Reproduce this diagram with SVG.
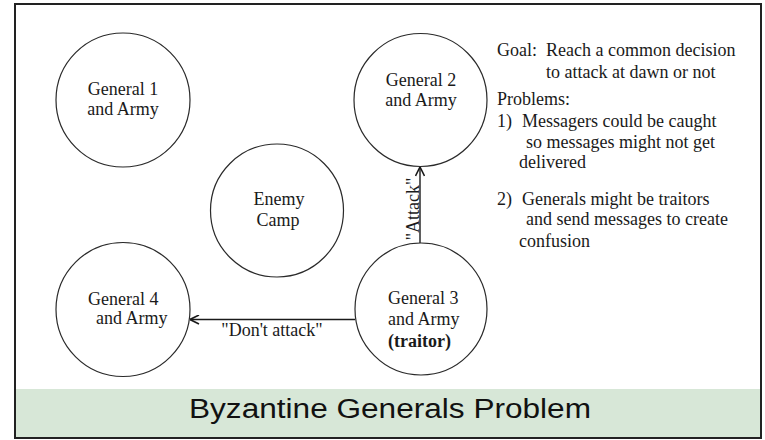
<svg xmlns="http://www.w3.org/2000/svg" width="765" height="440" viewBox="0 0 765 440">
<style>
.bg{fill:#ffffff}
.node{fill:#ffffff;stroke:#2a2a2a;stroke-width:1.2}
.t{font-family:'Liberation Serif','Times New Roman',Times,'DejaVu Serif',serif;font-size:18px;fill:#1a1a1a}
.b{font-weight:bold}
.conn{stroke:#1a1a1a;stroke-width:1.4;fill:none}
.title{font-family:'Liberation Sans',Arial,sans-serif;font-size:27px;fill:#111111}
</style>
<defs>
<marker id="arr" viewBox="0 0 10 10" refX="10" refY="5" markerWidth="10" markerHeight="10" markerUnits="userSpaceOnUse" orient="auto">
<path d="M1,0.5 L10,5 L1,9.5" fill="none" stroke="#1a1a1a" stroke-width="1.6"/>
</marker>
</defs>
<rect class="bg" x="0" y="0" width="765" height="440"/>
<rect x="15" y="389" width="746" height="49" fill="#d7e7d7"/>
<rect x="15" y="4" width="746" height="434" fill="none" stroke="#222222" stroke-width="2"/>
<text class="title" x="390" y="418" text-anchor="middle" textLength="402" lengthAdjust="spacingAndGlyphs">Byzantine Generals Problem</text>

<g id="connectors">
<line class="conn" x1="420" y1="243" x2="420" y2="167" marker-end="url(#arr)"/>
<text class="t" font-family="Liberation Serif, serif" transform="translate(419,209) rotate(-90)" text-anchor="middle">"Attack"</text>
<line class="conn" x1="355" y1="319.5" x2="190" y2="319.5" marker-end="url(#arr)"/>
<text class="t" font-family="Liberation Serif, serif" x="272" y="336" text-anchor="middle">"Don't attack"</text>
</g>

<g id="general1" font-family="Liberation Serif, serif">
<circle class="node" cx="123" cy="100" r="67"/>
<text class="t" x="123" y="95" text-anchor="middle">General 1</text>
<text class="t" x="123" y="115" text-anchor="middle">and Army</text>
</g>
<g id="general2">
<circle class="node" cx="420.5" cy="100" r="66.5"/>
<text class="t" x="421" y="86" text-anchor="middle">General 2</text>
<text class="t" x="421" y="106" text-anchor="middle">and Army</text>
</g>
<g id="enemy">
<circle class="node" cx="277" cy="210.5" r="66.5"/>
<text class="t" x="279" y="205" text-anchor="middle">Enemy</text>
<text class="t" x="278" y="226" text-anchor="middle">Camp</text>
</g>
<g id="general4">
<circle class="node" cx="123" cy="309.5" r="67"/>
<text class="t" x="88" y="305">General 4</text>
<text class="t" x="96" y="324">and Army</text>
</g>
<g id="general3">
<circle class="node" cx="421" cy="309" r="66"/>
<text class="t" x="388" y="304">General 3</text>
<text class="t" x="388" y="325">and Army</text>
<text class="t b" x="388" y="347">(traitor)</text>
</g>

<g id="notes">
<text class="t" x="497" y="56" xml:space="preserve">Goal:  Reach a common decision</text>
<text class="t" x="546" y="78">to attack at dawn or not</text>
<text class="t" x="497" y="105">Problems:</text>
<text class="t" x="497" y="127">1)</text>
<text class="t" x="522" y="127">Messagers could be caught</text>
<text class="t" x="526" y="148">so messages might not get</text>
<text class="t" x="519" y="168">delivered</text>
<text class="t" x="497" y="205">2)</text>
<text class="t" x="522" y="205">Generals might be traitors</text>
<text class="t" x="526" y="225">and send messages to create</text>
<text class="t" x="519" y="247">confusion</text>
</g>
</svg>
